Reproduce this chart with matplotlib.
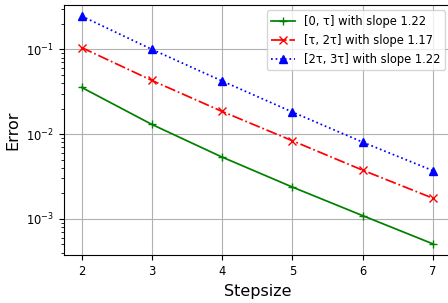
import matplotlib
matplotlib.use("Agg")
import matplotlib.pyplot as plt

steps = [2, 3, 4, 5, 6, 7]
err_0 = [0.0356, 0.0130, 0.00535, 0.00237, 0.00109, 0.000506]
err_1 = [0.105, 0.043, 0.0185, 0.00834, 0.00375, 0.00175]
err_2 = [0.247, 0.100, 0.0423, 0.0182, 0.00803, 0.0037]
labels = ["[0, τ] with slope 1.22", "[τ, 2τ] with slope 1.17", "[2τ, 3τ] with slope 1.22"]

fig = plt.figure(figsize=(4.48, 3.03), dpi=100)
ax = fig.add_axes([0.1429, 0.1574, 0.8629, 0.8271])
ax.semilogy(steps, err_0, 'g-', marker='+', lw=1.25, ms=6, label=labels[0])
ax.semilogy(steps, err_1, 'r-.', marker='x', lw=1.25, ms=6, label=labels[1])
ax.semilogy(steps, err_2, 'b:', marker='^', lw=1.25, ms=5.5, label=labels[2])
ax.grid(True, which='major', color='#b0b0b0', lw=0.8)
ax.tick_params(labelsize=8.3)
ax.set_xlabel("Stepsize", fontsize=11.5)
ax.set_ylabel("Error", fontsize=11.5)
ax.legend(loc='upper right', fontsize=8.3)
fig.savefig("out.png", dpi=100)
